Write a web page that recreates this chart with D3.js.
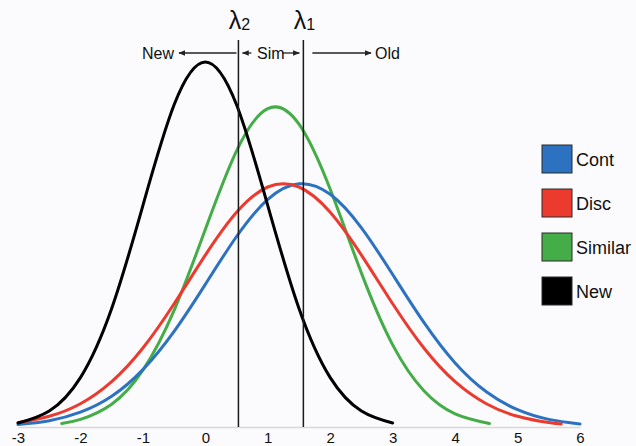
<!DOCTYPE html>
<html>
<head>
<meta charset="utf-8">
<script src="https://cdn.jsdelivr.net/npm/d3@7"></script>
<style>
  body { margin: 0; background: #fbfbfd; }
  svg { display: block; font-family: "Liberation Sans", Arial, Helvetica, sans-serif; }
</style>
</head>
<body>
<div class="container"></div>
<script>
// ==================================================
// Data
// ==================================================
const newX = [-3, -2.5, -2, -1.5, -1, -0.5, 0, 0.5, 1, 1.5, 2, 2.5, 3];
const newY = [0.0044, 0.0175, 0.054, 0.1295, 0.242, 0.3521, 0.3989, 0.3521, 0.242, 0.1295, 0.054, 0.0175, 0.0044];

const simX = [-2.3, -2, -1.5, -1, -0.5, 0, 0.5, 1, 1.5, 2, 2.5, 3, 3.5, 4, 4.55];
const simY = [0.0039, 0.0083, 0.0249, 0.0621, 0.1275, 0.216, 0.3018, 0.348, 0.331, 0.2598, 0.1682, 0.0898, 0.0396, 0.0144, 0.0038];

const discX = [-3, -2.5, -2, -1.5, -1, -0.5, 0, 0.5, 1, 1.5, 2, 2.5, 3, 3.5, 4, 4.5, 5, 5.5, 5.7];
const discY = [0.0048, 0.0117, 0.0254, 0.0495, 0.0863, 0.1347, 0.1879, 0.2347, 0.2623, 0.2623, 0.2347, 0.1879, 0.1347, 0.0863, 0.0495, 0.0254, 0.0117, 0.0048, 0.0033];

const contX = [-3, -2.5, -2, -1.5, -1, -0.5, 0, 0.5, 1, 1.5, 2, 2.5, 3, 3.5, 4, 4.5, 5, 5.5, 6];
const contY = [0.0027, 0.0069, 0.0162, 0.0336, 0.0627, 0.1045, 0.1559, 0.2082, 0.2487, 0.2658, 0.2543, 0.2176, 0.1667, 0.1143, 0.07, 0.0385, 0.0189, 0.0083, 0.0033];

const xTicks = [-3, -2, -1, 0, 1, 2, 3, 4, 5, 6];
const thresholds = [0.53, 1.57];
const thresholdSubs = ["2", "1"];

const legendLabels = ["Cont", "Disc", "Similar", "New"];
const legendColors = ["#2d72c0", "#ec3a2f", "#44ad47", "#000000"];

// ==================================================
// Setup
// ==================================================
const width = 636, height = 446;
const baseY = 427;

const svg = d3.select(".container").append("svg")
  .attr("width", width)
  .attr("height", height);

svg.append("rect").attr("width", width).attr("height", height).attr("fill", "#fbfbfd");

const x = d3.scaleLinear().domain([-3, 6]).range([18, 580]);
const y = d3.scaleLinear().domain([0, 0.42]).range([baseY, baseY - 0.42 * 915]);

// arrow marker
svg.append("defs").append("marker")
  .attr("id", "arrow")
  .attr("viewBox", "0 0 10 10")
  .attr("refX", 9).attr("refY", 5)
  .attr("markerWidth", 7).attr("markerHeight", 7)
  .attr("markerUnits", "userSpaceOnUse")
  .attr("orient", "auto")
  .append("path")
  .attr("d", "M0,1 L10,5 L0,9 Z")
  .attr("fill", "#222");

// axis
const axis = svg.append("g")
  .attr("transform", `translate(0,${baseY})`)
  .call(d3.axisBottom(x).tickValues(xTicks).tickSize(0).tickSizeOuter(0).tickPadding(5).tickFormat(d => String(d)));

axis.select(".domain").attr("stroke", "#d8d8dc").attr("stroke-width", 1.5);
axis.selectAll("text")
  .style("font-size", "15px")
  .style("font-family", "\"Liberation Sans\", Arial, sans-serif")
  .attr("fill", "#111");

// ==================================================
// Curves
// ==================================================
const line = d3.line()
  .x(d => x(d[0]))
  .y(d => y(d[1]))
  .curve(d3.curveNatural);

const series = [
  { xs: simX, ys: simY, color: legendColors[2] },
  { xs: contX, ys: contY, color: legendColors[0] },
  { xs: discX, ys: discY, color: legendColors[1] },
  { xs: newX, ys: newY, color: legendColors[3] }
];

series.forEach(s => {
  svg.append("path")
    .datum(d3.zip(s.xs, s.ys))
    .attr("d", line)
    .attr("fill", "none")
    .attr("stroke", s.color)
    .attr("stroke-width", 3)
    .attr("stroke-linecap", "round");
});

// ==================================================
// Threshold lines and labels
// ==================================================
thresholds.forEach((t, i) => {
  svg.append("line")
    .attr("x1", x(t)).attr("x2", x(t))
    .attr("y1", 40).attr("y2", baseY)
    .attr("stroke", "#1a1a1a")
    .attr("stroke-width", 1.5);

  const lab = svg.append("text")
    .attr("x", x(t) + 1)
    .attr("y", 29)
    .attr("text-anchor", "middle")
    .attr("fill", "#111");
  lab.append("tspan").style("font-size", "25px").text("λ");
  lab.append("tspan").style("font-size", "16px").attr("dy", 1).text(thresholdSubs[i]);
});

const arrowY = 53;
const arrows = [
  { from: x(thresholds[0]) - 2, to: 179 },
  { from: x(thresholds[0]) + 13, to: x(thresholds[0]) + 4 },
  { from: x(thresholds[1]) - 21, to: x(thresholds[1]) - 4 },
  { from: x(thresholds[1]) + 9, to: 371 }
];
arrows.forEach(a => {
  svg.append("line")
    .attr("x1", a.from).attr("x2", a.to)
    .attr("y1", arrowY).attr("y2", arrowY)
    .attr("stroke", "#222")
    .attr("stroke-width", 1.3)
    .attr("marker-end", "url(#arrow)");
});

const regionLabels = [
  { text: "New", x: 174, anchor: "end" },
  { text: "Sim", x: (x(thresholds[0]) + x(thresholds[1])) / 2, anchor: "middle" },
  { text: "Old", x: 375, anchor: "start" }
];
regionLabels.forEach(l => {
  svg.append("text")
    .attr("x", l.x)
    .attr("y", arrowY + 6)
    .attr("text-anchor", l.anchor)
    .style("font-size", "16px")
    .attr("fill", "#111")
    .text(l.text);
});

// ==================================================
// Legend
// ==================================================
const legend = svg.append("g").attr("transform", "translate(542,145)");
legendLabels.forEach((lbl, i) => {
  const g = legend.append("g").attr("transform", `translate(0,${i * 44})`);
  g.append("rect")
    .attr("width", 30).attr("height", 28)
    .attr("fill", legendColors[i])
    .attr("stroke", "#2a2a2a")
    .attr("stroke-width", 1);
  g.append("text")
    .attr("x", 34)
    .attr("y", 21)
    .style("font-size", "18px")
    .attr("fill", "#111")
    .text(lbl);
});
</script>
</body>
</html>
